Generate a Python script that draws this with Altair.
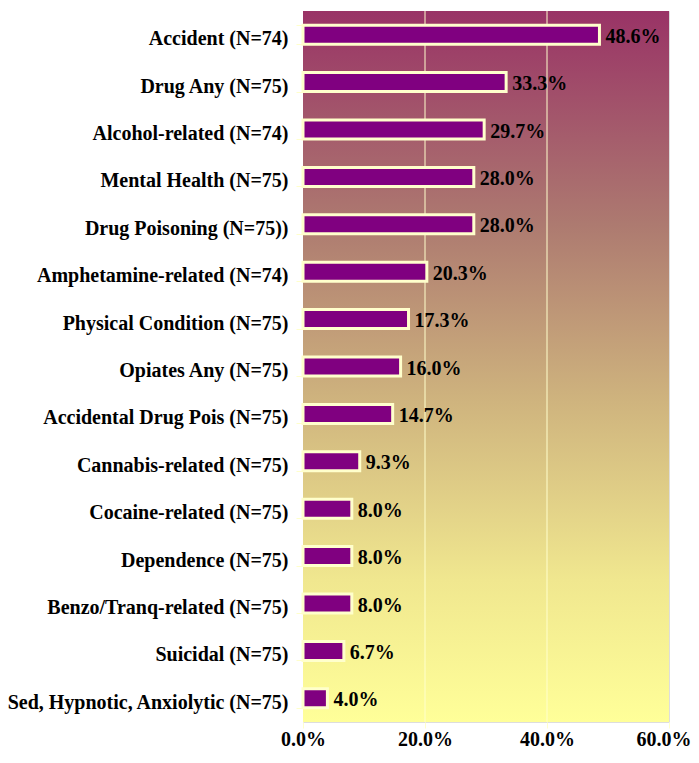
import altair as alt
import pandas as pd

categories = [
    "Accident (N=74)", "Drug Any (N=75)", "Alcohol-related (N=74)", "Mental Health (N=75)",
    "Drug Poisoning (N=75))", "Amphetamine-related (N=74)", "Physical Condition (N=75)",
    "Opiates Any (N=75)", "Accidental Drug Pois (N=75)", "Cannabis-related (N=75)",
    "Cocaine-related (N=75)", "Dependence (N=75)", "Benzo/Tranq-related (N=75)",
    "Suicidal (N=75)", "Sed, Hypnotic, Anxiolytic (N=75)",
]
values = [0.486, 0.333, 0.297, 0.280, 0.280, 0.203, 0.173, 0.160, 0.147, 0.093,
          0.080, 0.080, 0.080, 0.067, 0.040]
x_ticks = [0.0, 0.2, 0.4, 0.6]
grid_ticks = [0.2, 0.4]

df = pd.DataFrame({"cat": categories, "val": values})
grid_df = pd.DataFrame({"g": grid_ticks})

W, H = 366, 711
FONT = "Liberation Serif"
PALE = "#FFFFCC"
FS = 20

gradient = alt.LinearGradient(
    gradient="linear", x1=0, x2=0, y1=0, y2=1,
    stops=[
        alt.GradientStop(offset=0.0, color="#993366"),
        alt.GradientStop(offset=0.3, color="#AD7A70"),
        alt.GradientStop(offset=0.55, color="#CFB47E"),
        alt.GradientStop(offset=0.8, color="#F0E78F"),
        alt.GradientStop(offset=1.0, color="#FFFF99"),
    ],
)

xscale = alt.Scale(domain=[0, 0.6], nice=False)
yscale = alt.Scale(domain=categories, paddingInner=0.6, paddingOuter=0.3)

xaxis = alt.Axis(
    values=x_ticks, format=".1%", title=None, grid=False, domain=False,
    tickColor=PALE, tickSize=6, labelPadding=1,
    labelAlign={"condition": {"test": "datum.value >= 0.59", "value": "right"}, "value": "center"},
    labelOffset={"condition": {"test": "datum.value >= 0.59", "value": 22}, "value": 0},
    labelFont=FONT, labelFontWeight="bold", labelFontSize=FS, labelColor="black",
)

bg = alt.Chart(pd.DataFrame({"a": [0]})).mark_rect(fill=gradient).encode(
    x=alt.value(0), x2=alt.value(W), y=alt.value(0), y2=alt.value(H)
)

grid = alt.Chart(grid_df).mark_rule(color=PALE, strokeWidth=1).encode(
    x=alt.X("g:Q", scale=xscale, axis=xaxis)
)

bars = alt.Chart(df).mark_bar(
    fill="#800080", stroke=PALE, strokeWidth=3, cornerRadius=0
).encode(
    x=alt.X("val:Q", scale=xscale, axis=xaxis),
    y=alt.Y("cat:N", scale=yscale, sort=categories, axis=alt.Axis(
        title=None, grid=False, domain=False, tickColor=PALE, tickSize=7,
        tickBand="extent", labelPadding=8, labelLimit=400, labelOffset=4,
        labelFont=FONT, labelFontWeight="bold", labelFontSize=FS, labelColor="black",
    )),
)

labels = alt.Chart(df).mark_text(
    align="left", baseline="middle", dx=6, dy=2, font=FONT, fontWeight="bold",
    fontSize=FS, color="black"
).encode(
    x=alt.X("val:Q", scale=xscale, axis=xaxis),
    y=alt.Y("cat:N", scale=yscale, sort=categories),
    text=alt.Text("val:Q", format=".1%"),
)

chart = alt.layer(bg, grid, bars, labels).properties(
    width=W, height=H,
    autosize=alt.AutoSizeParams(type="none"),
    padding={"left": 295, "top": 3, "right": 22, "bottom": 28},
).configure_view(stroke=PALE, strokeWidth=1).configure(background="white")

chart.save("out.html", embed_options={"renderer": "svg", "actions": False})
